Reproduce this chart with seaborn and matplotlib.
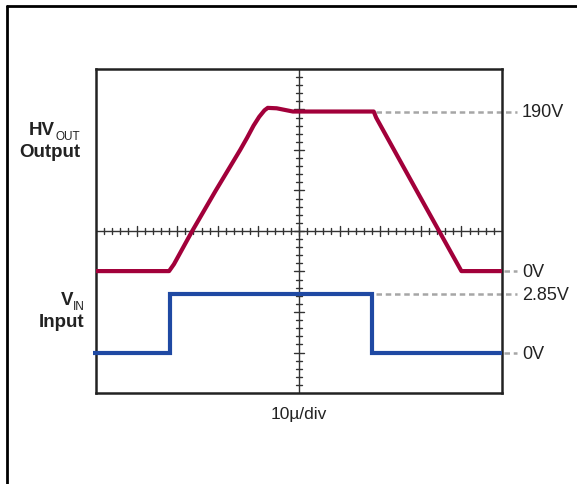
import numpy as np
import pandas as pd
import matplotlib.pyplot as plt
import seaborn as sns
from matplotlib.lines import Line2D

# Dados (x em divisões de 10µs, y em divisões)
hv_x = [0.0, 1.80, 1.92, 2.37, 2.95, 3.25, 3.55, 3.72, 3.88, 4.02, 4.15, 4.23, 4.45, 4.85, 6.84, 6.90, 7.95, 9.00, 10.0]
hv_y = [-0.99, -0.99, -0.82, 0.0, 1.0, 1.5, 2.0, 2.3, 2.6, 2.82, 2.98, 3.04, 3.03, 2.95, 2.95, 2.80, 0.90, -0.99, -0.99]

vin_x = [-0.07, 1.82, 1.82, 6.81, 6.81, 10.0]
vin_y = [-3.02, -3.02, -1.56, -1.56, -3.02, -3.02]

# Níveis de referência e rótulos
nivel_y = [2.95, -0.99, -1.56, -3.02]
nivel_x0 = [6.90, 10.05, 6.90, 10.05]
nivel_txt = ['190V', '0V', '2.85V', '0V']

RED = '#A2003A'
BLUE = '#1F49A3'

sns.set_style('white')
plt.rcParams['font.family'] = ['Liberation Sans', 'DejaVu Sans']

W, H = 577, 485
fig = plt.figure(figsize=(W / 100, H / 100), dpi=100)
ax = fig.add_axes([96 / W, 1 - 394 / H, 406 / W, 324 / H])


def px(x, y):
    return x / W, 1 - y / H


hv = pd.DataFrame({'t': hv_x, 'v': hv_y})
vin = pd.DataFrame({'t': vin_x, 'v': vin_y})

# Cruz central com marcas estilo osciloscópio
ax.axhline(0, color='#333333', lw=1.0, zorder=1)
ax.axvline(5, color='#333333', lw=1.0, zorder=1)
for xv in np.arange(0.2, 10, 0.2):
    major = abs(xv - round(xv)) < 1e-6
    h = 0.13 if major else 0.065
    ax.plot([xv, xv], [-h, h], color='#333333', lw=1.0, zorder=1)
for yv in np.arange(-3.8, 4, 0.2):
    major = abs(yv - round(yv)) < 1e-6
    h = 0.13 if major else 0.065
    ax.plot([5 - h, 5 + h], [yv, yv], color='#333333', lw=1.0, zorder=1)

# Linhas tracejadas de referência
for y0, x0, txt in zip(nivel_y, nivel_x0, nivel_txt):
    ax.plot([x0, 10.37], [y0, y0], color='#A6A6A6', lw=1.8, ls=(0, (2.2, 1.5)),
            clip_on=False, zorder=2)
    ax.text(10.49, y0, txt, ha='left', va='center', fontsize=13,
            color='#222222', clip_on=False)

sns.lineplot(data=hv, x='t', y='v', sort=False, estimator=None, errorbar=None,
             color=RED, lw=3.0, ax=ax, zorder=3,
             solid_capstyle='butt', solid_joinstyle='round')
sns.lineplot(data=vin, x='t', y='v', sort=False, estimator=None, errorbar=None,
             color=BLUE, lw=3.0, ax=ax, zorder=3,
             solid_capstyle='butt', solid_joinstyle='miter')
for line in ax.lines[-2:]:
    line.set_clip_on(False)

ax.set_xlim(0, 10)
ax.set_ylim(-4, 4)
ax.set_xticks([])
ax.set_yticks([])
ax.set_xlabel('')
ax.set_ylabel('')
for s in ax.spines.values():
    s.set_color('#222222')
    s.set_linewidth(1.8)

# Rótulos à esquerda
fig.text(*px(55, 135), 'HV', ha='right', va='baseline', fontsize=13.5,
         fontweight='bold', color='#222222')
fig.text(*px(55, 140), 'OUT', ha='left', va='baseline', fontsize=8.5,
         color='#222222')
fig.text(*px(80, 157), 'Output', ha='right', va='baseline', fontsize=13.5,
         fontweight='bold', color='#222222')
fig.text(*px(73, 305), 'V', ha='right', va='baseline', fontsize=13.5,
         fontweight='bold', color='#222222')
fig.text(*px(73, 310), 'IN', ha='left', va='baseline', fontsize=8.5,
         color='#222222')
fig.text(*px(84, 327), 'Input', ha='right', va='baseline', fontsize=13.5,
         fontweight='bold', color='#222222')

fig.text(*px(299, 415), '10µ/div', ha='center', va='center', fontsize=12.5,
         color='#222222')

# Moldura externa
fig.add_artist(Line2D([7 / W, 7 / W], [1 - 7 / H, 0], color='black', lw=2.0,
                      transform=fig.transFigure))
fig.add_artist(Line2D([7 / W, 1], [1 - 7 / H, 1 - 7 / H], color='black', lw=2.0,
                      transform=fig.transFigure))

fig.savefig('out.png', dpi=100)
